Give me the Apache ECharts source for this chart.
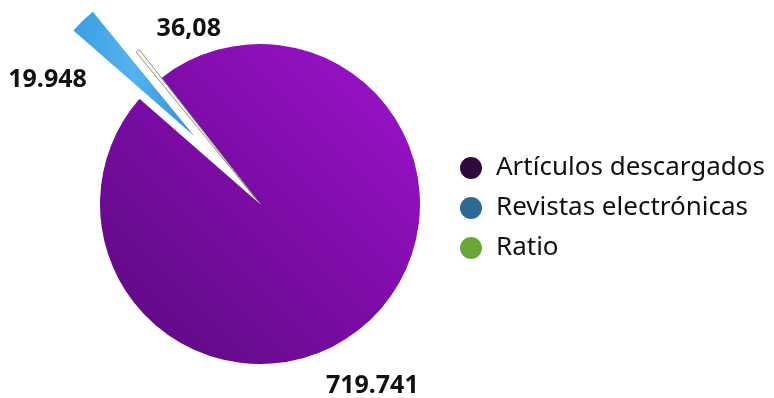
<!DOCTYPE html>
<html>
<head>
<meta charset="utf-8">
<script src="https://cdn.jsdelivr.net/npm/echarts@6/dist/echarts.min.js"></script>
<style>html,body{margin:0;padding:0;background:#fff}#c{width:774px;height:398px}</style>
</head>
<body>
<div id="c"></div>
<script>
const categories = ['Artículos descargados', 'Revistas electrónicas', 'Ratio'];
const values = [719741, 19948, 36.08];
const valueLabels = ['719.741', '19.948', '36,08'];
const legendColors = ['#2e0a3e', '#2c6a94', '#6aa63a'];

const sliceStyles = [
  { color: { type: 'linear', x: 1, y: 0, x2: 0, y2: 1, colorStops: [
      { offset: 0, color: '#9d14cc' }, { offset: 0.5, color: '#7c0ca6' }, { offset: 1, color: '#5a0a7e' } ] } },
  { color: { type: 'linear', x: 0, y: 0, x2: 1, y2: 0, colorStops: [
      { offset: 0, color: '#3b9ee2' }, { offset: 0.5, color: '#55b2ee' }, { offset: 1, color: '#2f8fd4' } ] } },
  { color: '#f3f6ec', borderColor: '#8c9a78', borderWidth: 1 }
];
const hidden = { color: 'rgba(0,0,0,0)', borderWidth: 0 };
const labelOffsets = [[-56, 58], [16, 66], [72, -42]];

const common = {
  type: 'pie',
  center: [260, 204],
  startAngle: 128,
  clockwise: true,
  minAngle: 1.2,
  avoidLabelOverlap: false,
  emphasis: { disabled: true },
  labelLine: { show: false, length: 10, length2: 0 }
};

const chart = echarts.init(document.getElementById('c'));
chart.setOption({
  animation: false,
  legend: {
    orient: 'vertical',
    left: 455,
    top: 150,
    icon: 'circle',
    itemWidth: 22,
    itemHeight: 22,
    itemGap: 14,
    itemStyle: { borderWidth: 0 },
    textStyle: { fontFamily: 'Noto Sans', fontSize: 26, color: '#111', padding: [0, 0, 0, 9] },
    data: categories.map((n, i) => ({ name: n, itemStyle: { color: legendColors[i], borderWidth: 0 } })),
    selectedMode: false
  },
  series: [Object.assign({}, common, {
    radius: [0, 160],
    selectedMode: 'multiple',
    selectedOffset: 95,
    label: {
      show: true,
      position: 'outside',
      fontFamily: 'Noto Sans',
      fontSize: 25,
      fontWeight: 'bold',
      color: '#111',
      formatter: p => valueLabels[p.dataIndex]
    },
    labelLayout: p => ({ dx: labelOffsets[p.dataIndex][0], dy: labelOffsets[p.dataIndex][1] }),
    data: categories.map((n, i) => ({
      name: n,
      value: values[i],
      selected: i === 1,
      itemStyle: i === 2 ? hidden : sliceStyles[i],
      select: { itemStyle: i === 2 ? hidden : sliceStyles[i] }
    }))
  }), Object.assign({}, common, {
    radius: [0, 196],
    silent: true,
    label: { show: false },
    data: categories.map((n, i) => ({
      name: n,
      value: values[i],
      itemStyle: i === 2 ? sliceStyles[i] : hidden
    }))
  })]
});
</script>
</body>
</html>
